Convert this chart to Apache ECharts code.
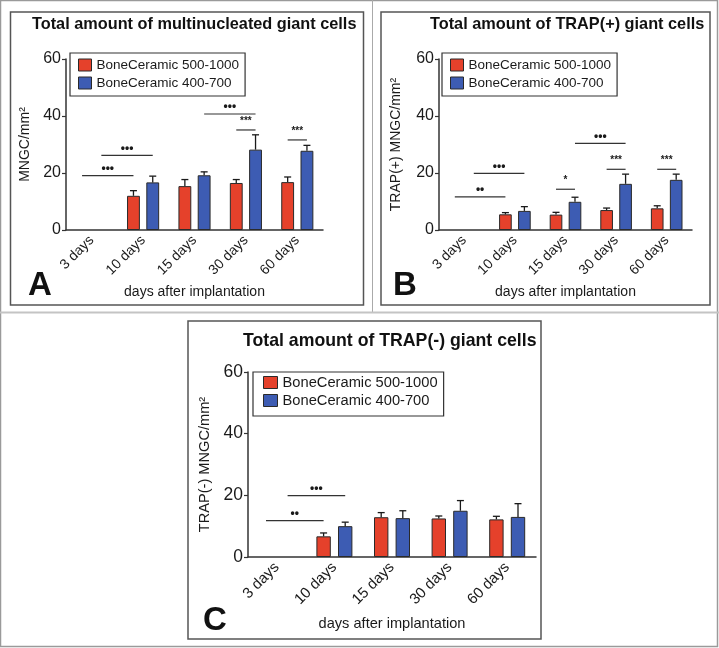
<!DOCTYPE html>
<html><head><meta charset="utf-8">
<script src="https://cdn.jsdelivr.net/npm/echarts@6/dist/echarts.min.js"></script>
<style>html,body{margin:0;padding:0;background:#fff}#c{width:719px;height:648px}</style>
</head><body><div id="c"></div>
<script>
// ---------- data ----------
const categories = ['3 days', '10 days', '15 days', '30 days', '60 days'];
const seriesNames = ['BoneCeramic 500-1000', 'BoneCeramic 400-700'];
const titles = ['Total amount of multinucleated giant cells', 'Total amount of TRAP(+) giant cells', 'Total amount of TRAP(-) giant cells'];
const yNames = ['MNGC/mm²', 'TRAP(+) MNGC/mm²', 'TRAP(-) MNGC/mm²'];
const xName = 'days after implantation';
const panelLetters = ['A', 'B', 'C'];

// Panel A: total MNGC
const aMean500 = [0, 12.0, 15.4, 16.5, 16.8];
const aErr500  = [0, 1.8, 2.3, 1.2, 1.8];
const aMean400 = [0, 16.7, 19.2, 28.2, 27.8];
const aErr400  = [0, 2.2, 1.2, 5.2, 1.9];
// [fromCategory, fromSeries, toCategory, toSeries, level]
const aBrackets = [[0,0,1,0,19.1],[0,1,1,1,26.2],[2,1,3,1,40.7],[3,0,3,1,35.1],[4,0,4,1,31.6]];
const aBracketLabels = ['•••', '•••', '•••', '***', '***'];

// Panel B: TRAP(+)
const bMean500 = [0, 5.5, 5.4, 7.0, 7.6];
const bErr500  = [0, 0.6, 0.8, 0.7, 0.9];
const bMean400 = [0, 6.7, 9.9, 16.2, 17.6];
const bErr400  = [0, 1.5, 1.6, 3.4, 2.0];
const bBrackets = [[0,0,1,0,11.6],[0,1,1,1,19.9],[2,0,2,1,14.3],[2,1,3,1,30.4],[3,0,3,1,21.3],[4,0,4,1,21.3]];
const bBracketLabels = ['••', '•••', '*', '•••', '***', '***'];

// Panel C: TRAP(-)
const cMean500 = [0, 6.7, 12.9, 12.5, 12.2];
const cErr500  = [0, 1.1, 1.5, 0.8, 1.0];
const cMean400 = [0, 10.0, 12.6, 15.0, 13.0];
const cErr400  = [0, 1.3, 2.4, 3.3, 4.3];
const cBrackets = [[0,0,1,0,11.8],[0,1,1,1,19.9]];
const cBracketLabels = ['••', '•••'];

const panelData = [
  {m0: aMean500, e0: aErr500, m1: aMean400, e1: aErr400, br: aBrackets, bl: aBracketLabels},
  {m0: bMean500, e0: bErr500, m1: bMean400, e1: bErr400, br: bBrackets, bl: bBracketLabels},
  {m0: cMean500, e0: cErr500, m1: cMean400, e1: cErr400, br: cBrackets, bl: cBracketLabels}
];

// ---------- style / layout ----------
const RED = '#e5412b', BLUE = '#3d5cb3', EDGE = '#2a2a2a', INK = '#1a1a1a';
const FONT = "'Liberation Sans', Arial, Helvetica, sans-serif";
const OFF = 0.1875; // bar centre offset as fraction of band (barWidth 25%, barGap 50%)

const layout = [
  {grid:{left:66,top:59,width:257,height:171}, title:{left:32,top:17,size:16.3},
   legend:{left:70,top:53,padding:[4,6,5,8],size:13.5,iw:13,ih:12,lh:16,gap:2},
   tick:16, xlab:14, yGap:34, nameSize:14, xGap:55, letter:[28,286]},
  {grid:{left:439,top:59,width:253,height:171}, title:{left:430,top:17,size:16.3},
   legend:{left:442,top:53,padding:[4,6,5,8],size:13.5,iw:13,ih:12,lh:16,gap:2},
   tick:16, xlab:14, yGap:36, nameSize:14, xGap:55, letter:[393,286]},
  {grid:{left:248,top:372,width:288,height:185}, title:{left:243,top:332,size:17.7},
   legend:{left:253,top:372,padding:[2,6,7,10],size:14.7,iw:14,ih:12,lh:17,gap:1},
   tick:17.5, xlab:15, yGap:36, nameSize:14.6, xGap:59, letter:[203,621]}
];

function errorRender(sign) {
  return function (params, api) {
    const cat = api.value(0), v = api.value(1), e = api.value(2);
    if (!e) return null;
    const band = api.size([1, 0])[0];
    const p0 = api.coord([cat, v]);
    const p1 = api.coord([cat, v + e]);
    const x = p0[0] + sign * OFF * band;
    const st = {stroke: INK, lineWidth: 1.3};
    return {type: 'group', children: [
      {type: 'line', shape: {x1: x, y1: p0[1], x2: x, y2: p1[1]}, style: st},
      {type: 'line', shape: {x1: x - 3.5, y1: p1[1], x2: x + 3.5, y2: p1[1]}, style: st}
    ]};
  };
}
function bracketRender(labels) {
  return function (params, api) {
    const c1 = api.value(0), s1 = api.value(1), c2 = api.value(2), s2 = api.value(3), y = api.value(4);
    const band = api.size([1, 0])[0];
    const pA = api.coord([c1, y]), pB = api.coord([c2, y]);
    const x1 = pA[0] + (s1 ? 1 : -1) * OFF * band;
    const x2 = pB[0] + (s2 ? 1 : -1) * OFF * band;
    const lab = labels[params.dataIndex];
    const isDot = lab.indexOf('•') >= 0;
    return {type: 'group', children: [
      {type: 'line', shape: {x1: x1, y1: pA[1], x2: x2, y2: pA[1]}, style: {stroke: '#333', lineWidth: 1.2}},
      {type: 'text', x: (x1 + x2) / 2, y: pA[1] - (isDot ? 7 : 4),
       style: {text: lab, align: 'center', verticalAlign: isDot ? 'middle' : 'bottom',
               font: 'bold ' + (isDot ? 12 : 10) + 'px ' + FONT, fill: INK}}
    ]};
  };
}
// zero-height bars carry no outline (nothing is drawn at 3 days)
function barData(arr) {
  return arr.map(v => v === 0 ? {value: 0, itemStyle: {borderWidth: 0, opacity: 0}} : v);
}

const grid = [], xAxis = [], yAxis = [], series = [], title = [], legend = [], graphic = [];

// decorations
graphic.push({type:'rect', shape:{x:0.5,y:0.5,width:717,height:646}, style:{fill:null, stroke:'#9a9a9a', lineWidth:1.5}, silent:true, z:-10});
graphic.push({type:'line', shape:{x1:372.5,y1:0,x2:372.5,y2:312}, style:{stroke:'#aaa', lineWidth:1}, silent:true});
graphic.push({type:'line', shape:{x1:0,y1:312.5,x2:719,y2:312.5}, style:{stroke:'#c4c4c4', lineWidth:2}, silent:true});
graphic.push({type:'rect', shape:{x:10.5,y:12,width:353,height:293}, style:{fill:null, stroke:'#555', lineWidth:1.5}, silent:true});
graphic.push({type:'rect', shape:{x:381,y:12,width:329,height:293}, style:{fill:null, stroke:'#555', lineWidth:1.5}, silent:true});
graphic.push({type:'rect', shape:{x:188,y:321,width:353,height:318}, style:{fill:null, stroke:'#555', lineWidth:1.5}, silent:true});

layout.forEach((L, p) => {
  const D = panelData[p];
  grid.push(Object.assign({containLabel: false}, L.grid));
  xAxis.push({
    type: 'category', gridIndex: p, data: categories,
    name: xName, nameLocation: 'middle', nameGap: L.xGap,
    nameTextStyle: {fontSize: L.nameSize, color: INK, fontFamily: FONT},
    axisLine: {lineStyle: {color: '#333', width: 1.5}},
    axisTick: {alignWithLabel: true, length: 4, lineStyle: {color: '#333', width: 1.2}},
    axisLabel: {interval: 0, rotate: 45, margin: 8, fontSize: L.xlab, color: INK, fontFamily: FONT},
    splitLine: {show: false}
  });
  yAxis.push({
    type: 'value', gridIndex: p, min: 0, max: 60, interval: 20,
    name: yNames[p], nameLocation: 'middle', nameGap: L.yGap,
    nameTextStyle: {fontSize: L.nameSize, color: INK, fontFamily: FONT},
    axisLine: {show: true, lineStyle: {color: '#333', width: 1.5}},
    axisTick: {show: true, length: 4, lineStyle: {color: '#333', width: 1.2}},
    axisLabel: {margin: 5, fontSize: L.tick, color: INK, fontFamily: FONT},
    splitLine: {show: false}
  });
  series.push({type: 'bar', name: seriesNames[0], xAxisIndex: p, yAxisIndex: p, data: barData(D.m0),
    barWidth: '25%', barGap: '50%', itemStyle: {color: RED, borderColor: EDGE, borderWidth: 1}, z: 2});
  series.push({type: 'bar', name: seriesNames[1], xAxisIndex: p, yAxisIndex: p, data: barData(D.m1),
    barWidth: '25%', barGap: '50%', itemStyle: {color: BLUE, borderColor: EDGE, borderWidth: 1}, z: 2});
  series.push({type: 'custom', xAxisIndex: p, yAxisIndex: p, renderItem: errorRender(-1), silent: true, clip: false,
    data: D.m0.map((v, i) => [i, v, D.e0[i]]), encode: {x: 0, y: 1}, z: 3});
  series.push({type: 'custom', xAxisIndex: p, yAxisIndex: p, renderItem: errorRender(1), silent: true, clip: false,
    data: D.m1.map((v, i) => [i, v, D.e1[i]]), encode: {x: 0, y: 1}, z: 3});
  series.push({type: 'custom', xAxisIndex: p, yAxisIndex: p, renderItem: bracketRender(D.bl), silent: true, clip: false,
    data: D.br, encode: {x: [0, 2], y: 4}, z: 4});

  title.push({text: titles[p], left: L.title.left, top: L.title.top, padding: 0,
    textStyle: {fontSize: L.title.size, fontWeight: 'bold', color: '#111', fontFamily: FONT}});
  const G = L.legend;
  legend.push({data: seriesNames, orient: 'vertical', left: G.left, top: G.top, padding: G.padding,
    itemGap: G.gap, itemWidth: G.iw, itemHeight: G.ih, icon: 'rect', selectedMode: false,
    borderColor: '#333', borderWidth: 1.2,
    itemStyle: {borderColor: EDGE, borderWidth: 1, opacity: 1},
    textStyle: {fontSize: G.size, lineHeight: G.lh, color: INK, fontFamily: FONT}});
  graphic.push({type: 'text', x: L.letter[0], y: L.letter[1], silent: true,
    style: {text: panelLetters[p], align: 'left', verticalAlign: 'middle', font: 'bold 33px ' + FONT, fill: '#111'}});
});

const chart = echarts.init(document.getElementById('c'), null, {renderer: 'canvas'});
chart.setOption({
  animation: false,
  backgroundColor: '#fff',
  textStyle: {fontFamily: FONT},
  color: [RED, BLUE],
  title, legend, grid, xAxis, yAxis, series, graphic
});
</script>
</body></html>
